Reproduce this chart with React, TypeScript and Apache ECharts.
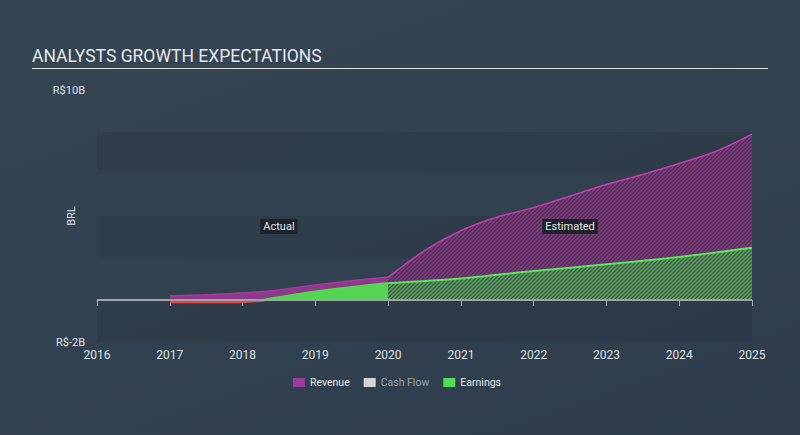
import React, { useEffect, useRef } from "react";
import * as echarts from "echarts";

// ---- data (values in R$ billions, x = year) ----
const years = [2016, 2017, 2018, 2019, 2020, 2021, 2022, 2023, 2024, 2025];
const revenueActual: [number, number][] = [
  [2017, 0.19], [2017.5, 0.25], [2018, 0.33], [2018.5, 0.48], [2019, 0.72], [2019.5, 0.92], [2020, 1.08],
];
const revenueEstimate: [number, number][] = [
  [2020, 1.08], [2020.5, 2.35], [2021, 3.3], [2021.5, 3.95], [2022, 4.4], [2022.5, 4.95],
  [2023, 5.5], [2023.5, 5.98], [2024, 6.5], [2024.5, 7.07], [2025, 7.9],
];
const earningsActualNegative: [number, number][] = [
  [2017, -0.1], [2017.5, -0.1], [2018, -0.1], [2018.3, -0.02],
];
const earningsActual: [number, number][] = [
  [2018.25, 0], [2018.6, 0.2], [2019, 0.42], [2019.5, 0.63], [2020, 0.82],
];
const earningsEstimate: [number, number][] = [
  [2020, 0.8], [2021, 1.02], [2022, 1.38], [2023, 1.7], [2024, 2.05], [2025, 2.49],
];
const yTicks = { min: -2, max: 10, step: 2 };
const yLabels: Record<number, string> = { 10: "R$10B", [-2]: "R$-2B" };
const legendNames = ["Revenue", "Cash Flow", "Earnings"];
const annotations = [
  { text: "Actual", coord: [2018.5, 3.5] },
  { text: "Estimated", coord: [2022.5, 3.5] },
];

function makeHatch(bg: string, stripe: string): HTMLCanvasElement {
  const s = 4;
  const c = document.createElement("canvas");
  c.width = s;
  c.height = s;
  const ctx = c.getContext("2d")!;
  ctx.fillStyle = bg;
  ctx.fillRect(0, 0, s, s);
  ctx.strokeStyle = stripe;
  ctx.lineWidth = 1.3;
  ctx.beginPath();
  ctx.moveTo(0, s);
  ctx.lineTo(s, 0);
  ctx.moveTo(-1, 1);
  ctx.lineTo(1, -1);
  ctx.moveTo(s - 1, s + 1);
  ctx.lineTo(s + 1, s - 1);
  ctx.stroke();
  return c;
}

export default function App() {
  const ref = useRef<HTMLDivElement>(null);
  useEffect(() => {
    if (!ref.current) return;
    const chart = echarts.init(ref.current, undefined, { renderer: "svg" });
    const purpleHatch = makeHatch("#4b3152", "#8e3a8c");
    const greenHatch = makeHatch("#3e5a4a", "#5cab5c");
    const font = "Roboto, sans-serif";

    chart.setOption({
      animation: false,
      backgroundColor: "transparent",
      textStyle: { fontFamily: font },
      title: {
        text: "ANALYSTS GROWTH EXPECTATIONS",
        left: 32,
        top: 47,
        padding: 0,
        textStyle: { color: "#e6e8ea", fontSize: 17.5, fontWeight: "normal", fontFamily: font },
      },
      graphic: [
        {
          type: "line",
          shape: { x1: 32, y1: 68.5, x2: 768, y2: 68.5 },
          style: { stroke: "#d8dadc", lineWidth: 1 },
        },
      ],
      legend: {
        left: 288,
        top: 372,
        itemWidth: 12,
        itemHeight: 9,
        itemGap: 14,
        icon: "rect",
        selectedMode: false,
        textStyle: { color: "#e8e8e8", fontSize: 10.5, fontFamily: font },
        data: legendNames.map((n) =>
          n === "Cash Flow" ? { name: n, textStyle: { color: "#9aa3ad" } } : { name: n }
        ),
      },
      grid: { left: 97, right: 48, top: 90, bottom: 93 },
      xAxis: {
        type: "value",
        min: years[0],
        max: years[years.length - 1],
        interval: 1,
        axisLine: { lineStyle: { color: "#a3adb9", width: 1 } },
        axisTick: { show: true, length: 6, lineStyle: { color: "#a3adb9" } },
        axisLabel: { color: "#dde1e5", fontSize: 12, margin: 7, formatter: (v: number) => String(v) },
        splitLine: { show: false },
      },
      yAxis: {
        type: "value",
        min: yTicks.min,
        max: yTicks.max,
        interval: yTicks.step,
        name: "BRL",
        nameLocation: "middle",
        nameGap: 20,
        nameMoveOverlap: false,
        nameTextStyle: { color: "#dde1e5", fontSize: 11 },
        axisLine: { show: false },
        axisTick: { show: false },
        axisLabel: {
          color: "#dde1e5",
          fontSize: 11,
          margin: 12,
          formatter: (v: number) => yLabels[v] ?? "",
        },
        splitLine: { show: false },
        splitArea: {
          show: true,
          areaStyle: { color: ["rgba(30,40,52,0.18)", "rgba(255,255,255,0)"] },
        },
      },
      series: [
        {
          name: "Cash Flow",
          type: "line",
          data: [],
          itemStyle: { color: "#d4d4d4" },
          lineStyle: { color: "#d4d4d4" },
        },
        {
          name: "Revenue",
          type: "line",
          data: revenueActual,
          smooth: 0.3,
          symbol: "none",
          itemStyle: { color: "#a0399c" },
          lineStyle: { color: "#a83aa2", width: 1.5 },
          areaStyle: { color: "#8e3a8b", opacity: 1 },
          z: 2,
        },
        {
          name: "RevenueEst",
          type: "line",
          data: revenueEstimate,
          smooth: 0.3,
          symbol: "none",
          lineStyle: { color: "#c23db2", width: 1.5 },
          areaStyle: { color: { image: purpleHatch, repeat: "repeat" }, opacity: 1 },
          z: 2,
          markPoint: {
            symbol: "rect",
            symbolSize: 1,
            itemStyle: { color: "rgba(0,0,0,0)" },
            label: {
              show: true,
              position: "inside",
              color: "#e4e6e8",
              fontSize: 11,
              fontFamily: font,
              backgroundColor: "#1d222b",
              padding: [2, 3],
              formatter: (p: any) => p.name,
            },
            data: annotations.map((a) => ({ name: a.text, coord: a.coord })),
          },
        },
        {
          name: "EarningsNeg",
          type: "line",
          data: earningsActualNegative,
          symbol: "none",
          lineStyle: { color: "#e9473d", width: 2.5 },
          z: 3,
        },
        {
          name: "Earnings",
          type: "line",
          data: earningsActual,
          smooth: 0.3,
          symbol: "none",
          itemStyle: { color: "#52dd52" },
          lineStyle: { color: "#55d655", width: 1.5 },
          areaStyle: { color: "#53d453", opacity: 1 },
          z: 3,
        },
        {
          name: "EarningsEst",
          type: "line",
          data: earningsEstimate,
          smooth: 0.3,
          symbol: "none",
          lineStyle: { color: "#5de35d", width: 2 },
          areaStyle: { color: { image: greenHatch, repeat: "repeat" }, opacity: 1 },
          z: 3,
          markLine: {
            silent: true,
            symbol: "none",
            label: { show: false },
            lineStyle: { color: "#9ea3a8", width: 2, type: "solid" },
            data: [{ yAxis: 0 }],
          },
        },
      ],
    });
    return () => chart.dispose();
  }, []);

  return (
    <div
      ref={ref}
      style={{
        position: "fixed",
        left: 0,
        top: 0,
        width: 800,
        height: 435,
        background: "linear-gradient(160deg, #364554 0%, #334251 50%, #2e3c4b 100%)",
      }}
    />
  );
}
